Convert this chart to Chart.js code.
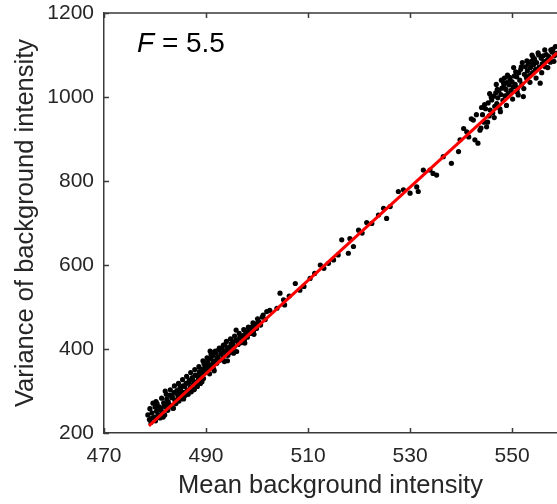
<!DOCTYPE html>
<html>
<head>
<meta charset="utf-8">
<script src="https://cdn.jsdelivr.net/npm/chart.js@4"></script>
<style>
  html, body { margin: 0; padding: 0; background: #fff; }
  #wrap { width: 557px; height: 504px; }
</style>
</head>
<body>
<div id="wrap"><canvas id="grafico"></canvas></div>
<script>
// puntos (media, varianza)
const meanX = [
  478.6, 478.9, 479.2, 479.4, 479.6, 479.9, 480.1, 480.3, 480.6, 480.8,
  481.0, 481.2, 481.5, 481.7, 481.9, 482.1, 482.3, 482.5, 482.7, 482.9,
  483.1, 483.3, 483.5, 483.7, 483.9, 484.1, 484.3, 484.5, 484.7, 484.9,
  485.1, 485.3, 485.5, 485.7, 485.9, 486.1, 486.3, 486.5, 486.7, 486.9,
  487.1, 487.3, 487.5, 487.7, 487.9, 488.1, 488.3, 488.5, 488.7, 488.9,
  489.1, 489.3, 489.5, 489.7, 489.9, 490.1, 490.3, 490.5, 490.7, 490.9,
  491.1, 491.3, 491.5, 491.7, 491.9, 492.1, 492.3, 492.5, 492.7, 492.9,
  493.1, 493.3, 493.5, 493.7, 493.9, 494.1, 494.3, 494.5, 494.7, 494.9,
  495.1, 495.3, 495.5, 495.8, 496.0, 496.3, 496.6, 496.9, 497.2, 497.5,
  497.8, 498.1, 498.4, 498.7, 499.0, 499.3, 499.6, 499.9, 500.3, 500.7,
  501.2, 501.6, 494.2, 489.6, 491.0,
  479.0, 479.5, 480.0, 480.4, 480.9, 481.3, 481.8, 482.2, 482.6, 483.0,
  483.4, 483.8, 484.2, 484.6, 485.0, 485.4, 485.8, 486.2, 486.6, 487.0,
  487.4, 487.8, 488.2, 488.6, 489.0, 489.4, 489.8, 490.2, 490.6, 491.0,
  491.4, 491.8, 492.2, 492.6, 493.0, 493.4, 493.8, 494.0, 494.4, 494.8,
  495.2, 495.6, 496.1, 496.5, 497.0, 497.4, 497.9, 498.3, 498.8, 499.2,
  499.7, 500.1, 500.5, 501.0, 501.9, 502.5,
  481.6, 483.6, 485.6, 487.6, 489.2, 491.6, 493.6, 495.4, 497.6, 499.4,
  480.2, 482.0, 490.8, 495.9,
  503.9, 504.5, 505.2, 505.4, 506.3, 507.5, 508.4, 509.2, 510.4, 511.3,
  512.4, 513.1, 514.0, 515.0, 515.9, 516.6, 517.9, 518.2, 518.9, 519.9,
  520.6, 521.5, 522.5, 523.8, 524.8, 525.4, 526.1, 527.7, 528.7, 530.0,
  531.3, 531.6, 532.6, 533.9, 534.5, 535.2, 536.5, 538.1, 539.5, 539.8,
  541.1, 542.4, 542.7, 543.3, 543.7,
  544.2, 544.5, 544.8, 545.0, 545.3, 545.5, 545.7, 546.0, 546.2, 546.4,
  546.6, 546.8, 547.0, 547.2, 547.4, 547.6, 547.8, 548.0, 548.2, 548.4,
  548.6, 548.8, 549.0, 549.2, 549.4, 549.6, 549.8, 550.0, 550.2, 550.4,
  550.6, 550.9, 551.1, 551.3, 551.5, 551.7, 551.9, 552.2, 552.4, 552.6,
  552.8, 553.0, 553.2, 553.4, 553.6, 553.8, 554.0, 554.2, 554.4, 554.6,
  554.8, 555.1, 555.3, 555.5, 555.7, 555.9, 556.1, 556.3, 556.5, 556.7,
  556.9, 557.2, 557.5, 557.8, 558.0, 558.3, 558.6,
  540.5, 541.5, 542.0, 543.0, 543.9, 544.6, 545.2, 545.9, 546.5, 547.1,
  547.7, 548.3, 548.9, 549.5, 550.1, 550.7, 551.2, 551.8, 552.3, 552.9,
  553.5, 554.1, 554.7, 555.2, 555.8, 556.4, 557.0, 557.6, 558.2, 558.5,
  548.5, 550.3, 552.0, 553.9, 549.1, 546.9, 545.6, 544.0, 547.9, 551.0
];
const varY = [
  243, 232, 225, 248, 271, 238, 229, 252, 244, 262,
  236, 258, 249, 272, 243, 262, 281, 254, 269, 290,
  266, 284, 259, 296, 278, 270, 301, 287, 276, 308,
  293, 282, 312, 297, 289, 318, 301, 292, 326, 309,
  298, 332, 316, 304, 338, 321, 311, 329, 346, 318,
  336, 352, 330, 344, 362, 348, 370, 356, 341, 377,
  361, 384, 352, 372, 390, 366, 381, 398, 373, 389,
  402, 378, 395, 410, 386, 399, 385, 404, 392, 412,
  398, 416, 405, 421, 394, 411, 427, 415, 432, 421,
  440, 428, 446, 437, 452, 443, 460, 449, 466, 457,
  481, 470, 372, 365, 392,
  258, 236, 262, 270, 255, 283, 266, 292, 274, 303,
  286, 312, 295, 318, 303, 327, 311, 335, 320, 344,
  326, 351, 337, 358, 345, 372, 355, 379, 363, 387,
  368, 395, 379, 402, 388, 409, 394, 418, 401, 424,
  409, 431, 420, 437, 428, 446, 435, 452, 446, 462,
  455, 472, 463, 476, 489, 492,
  238, 259, 281, 303, 322, 348, 370, 390, 414, 435,
  275, 300, 395, 445,
  497, 533, 517, 505, 526, 556, 540, 549, 568, 580,
  600, 592, 604, 612, 624, 660, 628, 663, 644, 683,
  676, 701, 699, 719, 735, 711, 739, 775, 779, 771,
  786, 775, 826, 826, 818, 814, 858, 842, 870, 898,
  917, 945, 898, 890, 921,
  958, 940, 972, 929, 986, 955, 969, 993, 962, 1002,
  978, 1010, 984, 998, 1015, 972, 1006, 1021, 992, 1026,
  1003, 1018, 1034, 1008, 1029, 1042, 1016, 1036, 1024, 1050,
  1030, 1048, 1022, 1058, 1040, 1066, 1031, 1001, 1054, 1072,
  1046, 1062, 1079, 1051, 1070, 1085, 1058, 1077, 1090, 1066,
  1082, 1105, 1071, 1033, 1092, 1079, 1098, 1084, 1072, 1101,
  1088, 1096, 1083, 1107, 1114, 1098, 1104,
  925, 905, 948, 958, 926, 982, 940, 1000, 951, 1018,
  965, 1034, 980, 1047, 995, 1060, 1005, 1072, 1020, 1086,
  1035, 1095, 1045, 1100, 1058, 1112, 1070, 1112, 1085, 1120,
  1045, 1070, 1082, 1100, 1052, 1030, 1008, 975, 1040, 1012
];
// recta de ajuste (extremos)
const ajusteX = [478.8, 558.8];
const ajusteY = [217, 1105];

const ticksX = [470, 490, 510, 530, 550];
const ticksY = [200, 400, 600, 800, 1000, 1200];
const textoF = '= 5.5';

const colorEje = '#3a3a3a';
const fuente = 'Arial, "Liberation Sans", Helvetica, sans-serif';

const puntos = meanX.map((x, i) => ({ x: x, y: varY[i] }));
const recta = ajusteX.map((x, i) => ({ x: x, y: ajusteY[i] }));

// marco estilo matlab: linea superior y marcas hacia adentro
const marco = {
    id: 'marco',
    afterDraw(chart) {
        const { ctx, chartArea: a, scales: { x, y } } = chart;
        ctx.save();
        ctx.strokeStyle = colorEje;
        ctx.lineWidth = 1.5;
        ctx.beginPath();
        ctx.moveTo(a.left, a.top);
        ctx.lineTo(a.right + 2, a.top);
        ticksX.forEach(v => {
            const px = Math.round(x.getPixelForValue(v)) + 0.5;
            ctx.moveTo(px, a.bottom);
            ctx.lineTo(px, a.bottom - 5);
            ctx.moveTo(px, a.top);
            ctx.lineTo(px, a.top + 5);
        });
        ticksY.forEach(v => {
            const py = Math.round(y.getPixelForValue(v)) + 0.5;
            ctx.moveTo(a.left, py);
            ctx.lineTo(a.left + 5, py);
        });
        ctx.stroke();
        ctx.fillStyle = '#000';
        ctx.font = 'italic 28px ' + fuente;
        ctx.textBaseline = 'alphabetic';
        ctx.fillText('F', 137, 52);
        const w = ctx.measureText('F ').width;
        ctx.font = '28px ' + fuente;
        ctx.fillText(textoF, 137 + w, 52);
        ctx.restore();
    }
};

new Chart(document.getElementById('grafico').getContext('2d'), {
    type: 'scatter',
    data: {
        datasets: [
            {
                label: 'ajuste',
                data: recta,
                showLine: true,
                borderColor: '#ff0000',
                borderWidth: 3,
                pointRadius: 0,
                order: 0
            },
            {
                label: 'datos',
                data: puntos,
                backgroundColor: '#000',
                borderColor: '#000',
                borderWidth: 0,
                pointRadius: 2.6,
                order: 1
            }
        ]
    },
    options: {
        responsive: true,
        maintainAspectRatio: false,
        animation: false,
        layout: { autoPadding: false, padding: { top: 13, right: 0, left: 0, bottom: 0 } },
        plugins: {
            legend: { display: false },
            tooltip: { enabled: false }
        },
        scales: {
            x: {
                type: 'linear',
                min: 470,
                max: 558.8,
                afterBuildTicks: s => { s.ticks = ticksX.map(v => ({ value: v })); },
                afterFit: s => {
                    s.height = 71;
                    s.paddingLeft = 0;
                    s.paddingRight = 0;
                },
                grid: { display: false, drawTicks: false },
                border: { display: true, color: colorEje, width: 1.5 },
                ticks: { color: '#262626', padding: 11, font: { family: fuente, size: 21 } },
                title: {
                    display: true,
                    text: 'Mean background intensity',
                    color: '#262626',
                    font: { family: fuente, size: 25.5 },
                    padding: { top: 0, bottom: 3 }
                }
            },
            y: {
                type: 'linear',
                min: 200,
                max: 1200,
                afterBuildTicks: s => { s.ticks = ticksY.map(v => ({ value: v })); },
                afterFit: s => {
                    s.width = 104;
                    s.paddingTop = 0;
                    s.paddingBottom = 0;
                },
                grid: { display: false, drawTicks: false },
                border: { display: true, color: colorEje, width: 1.5 },
                ticks: {
                    color: '#262626',
                    padding: 10,
                    font: { family: fuente, size: 21 },
                    callback: v => String(v)
                },
                title: {
                    display: true,
                    text: 'Variance of background intensity',
                    color: '#262626',
                    font: { family: fuente, size: 25.5 },
                    padding: { top: 11, bottom: 0 }
                }
            }
        }
    },
    plugins: [marco]
});
</script>
</body>
</html>
